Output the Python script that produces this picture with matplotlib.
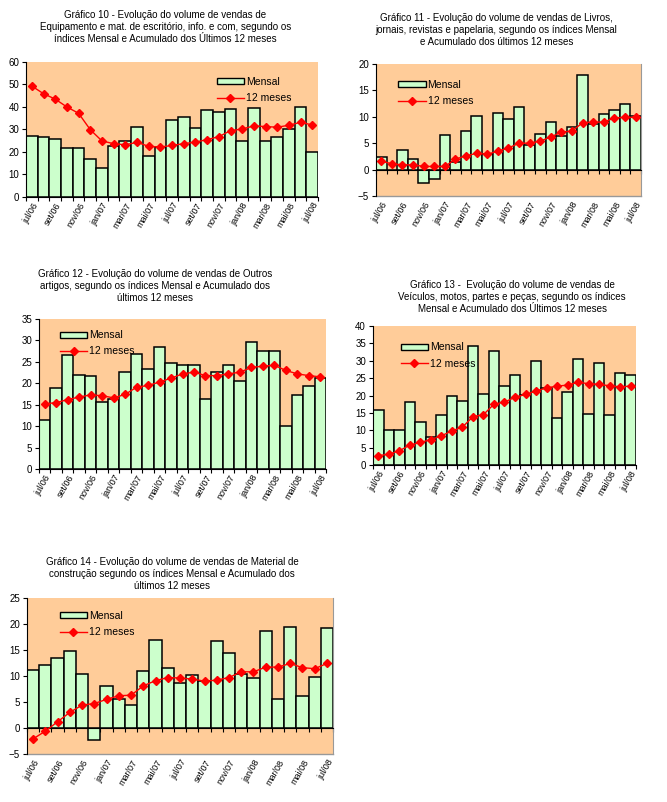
import numpy as np
import matplotlib
matplotlib.use("Agg")
import matplotlib.pyplot as plt
from matplotlib.patches import Patch
from matplotlib.lines import Line2D

plt.rcParams['font.family'] = ['Liberation Sans', 'DejaVu Sans']

meses = ["jul/06", "ago/06", "set/06", "out/06", "nov/06", "dez/06", "jan/07", "fev/07",
         "mar/07", "abr/07", "mai/07", "jun/07", "jul/07", "ago/07", "set/07", "out/07",
         "nov/07", "dez/07", "jan/08", "fev/08", "mar/08", "abr/08", "mai/08", "jun/08", "jul/08"]

# Grafico 10 - Equipamento e mat. de escritorio
mensal_10 = [27.0, 26.5, 25.6, 21.6, 21.6, 17.1, 13.1, 22.5, 24.7, 31.0, 18.0, 22.0, 34.1,
             35.4, 30.5, 38.6, 37.7, 39.0, 24.7, 39.5, 24.7, 26.5, 30.1, 39.9, 20.2]
acum_10 = [49.3, 45.9, 43.5, 40.0, 37.2, 29.9, 24.9, 23.7, 23.2, 24.3, 22.5, 22.2, 22.9,
           23.7, 24.4, 25.5, 26.8, 29.5, 30.2, 31.6, 31.3, 31.0, 31.9, 33.2, 32.0]

# Grafico 11 - Livros, jornais, revistas e papelaria
mensal_11 = [2.3, 0.0, 3.7, 2.0, -2.6, -1.8, 6.5, 1.4, 7.4, 10.1, 3.0, 10.7, 9.6,
             11.8, 4.6, 6.7, 9.0, 6.3, 8.0, 17.9, 8.6, 10.5, 11.2, 12.4, 10.1]
acum_11 = [1.6, 1.1, 0.9, 0.9, 0.6, 0.6, 0.6, 2.0, 2.6, 3.1, 2.9, 3.5, 4.1,
           5.0, 5.0, 5.4, 6.2, 7.1, 7.3, 8.9, 9.0, 9.0, 9.8, 9.9, 9.9]

# Grafico 12 - Outros artigos
mensal_12 = [11.4, 19.0, 26.6, 21.9, 21.7, 15.6, 16.3, 22.6, 26.8, 23.3, 28.5, 24.7, 24.3,
             24.3, 16.3, 22.6, 24.3, 20.5, 29.6, 27.5, 27.5, 10.0, 17.3, 19.4, 21.2]
acum_12 = [15.2, 15.5, 16.2, 16.8, 17.3, 17.1, 16.6, 17.4, 19.1, 19.5, 20.3, 21.2, 22.2,
           22.6, 21.8, 21.8, 22.2, 22.6, 23.7, 24.0, 24.2, 23.0, 22.2, 21.8, 21.5]

# Grafico 13 - Veiculos, motos, partes e pecas
mensal_13 = [15.8, 10.0, 10.0, 18.1, 12.3, 8.0, 14.4, 19.8, 18.4, 34.2, 20.4, 32.7, 22.7,
             25.8, 20.1, 29.9, 22.2, 13.5, 21.0, 30.4, 14.6, 29.3, 14.4, 26.4, 25.8]
acum_13 = [2.7, 3.1, 4.1, 5.7, 6.5, 7.3, 8.4, 9.8, 10.9, 13.9, 14.5, 17.5, 18.1,
           19.5, 20.3, 21.3, 22.2, 22.7, 23.0, 23.8, 23.4, 23.2, 22.8, 22.5, 22.7]

# Grafico 14 - Material de construcao
mensal_14 = [11.2, 12.1, 13.5, 14.8, 10.4, -2.3, 8.1, 5.6, 4.4, 11.0, 17.0, 11.5, 8.7,
             10.2, 9.0, 16.7, 14.4, 10.4, 9.6, 18.7, 5.6, 19.4, 6.2, 9.8, 19.2]
acum_14 = [-2.1, -0.6, 1.2, 3.0, 4.4, 4.7, 5.5, 6.2, 6.3, 8.1, 9.1, 9.7, 9.6,
           9.4, 9.0, 9.2, 9.7, 10.8, 10.8, 11.7, 11.7, 12.4, 11.6, 11.4, 12.4]

fundo = "#FFCC99"
verde = "#CCFFCC"
vermelho = "#FF0000"


def grafico(fig, rect, titulo, tpos, mensal, acum, ylim, ystep, legpos):
    ax = fig.add_axes(rect)
    ax.set_facecolor(fundo)
    x = np.arange(len(meses))
    ax.bar(x, mensal, width=1.0, color=verde, edgecolor="black", linewidth=1.1, zorder=2)
    ax.plot(x, acum, color=vermelho, lw=1.0, marker="D", ms=4, zorder=3)
    ax.set_xlim(-0.5, len(meses) - 0.5)
    ax.set_ylim(ylim)
    ax.set_yticks(np.arange(ylim[0], ylim[1] + 0.1, ystep))
    ax.tick_params(axis="y", labelsize=7, length=3, width=0.8, pad=2)
    for s in ["top", "right"]:
        ax.spines[s].set_visible(False)
    ax.spines["left"].set_linewidth(0.8)

    # eixo das categorias em zero, rotulos embaixo
    ax.spines["bottom"].set_position(("data", 0))
    ax.spines["bottom"].set_linewidth(0.8)
    ax.set_xticks(np.arange(-0.5, len(meses), 1.0))
    ax.set_xticklabels([])
    ax.tick_params(axis="x", length=3, width=0.8)
    sec = ax.secondary_xaxis(0)
    sec.set_xticks(x[::2])
    sec.set_xticklabels(meses[::2], rotation=60, ha="right", rotation_mode="anchor", fontsize=6.5)
    sec.tick_params(length=0, pad=3)
    sec.spines["bottom"].set_visible(False)
    if ylim[0] < 0:
        ax.spines["right"].set_visible(True)
        ax.spines["right"].set_color("#999999")
        ax.plot([0, 1], [0, 0], transform=ax.transAxes, color="#999999", lw=1, clip_on=False)

    handles = [Patch(facecolor=verde, edgecolor="black", linewidth=1.0),
               Line2D([], [], color=vermelho, lw=1.0, marker="D", ms=4)]
    ax.legend(handles, ["Mensal", "12 meses"], loc="upper left", bbox_to_anchor=legpos,
              frameon=False, fontsize=7.5, handlelength=2.6, handleheight=0.5,
              handletextpad=0.2, labelspacing=0.6, borderpad=0)

    fig.text(tpos[0], tpos[1], titulo, ha="center", va="top", fontsize=7, linespacing=1.25)
    return ax


fig = plt.figure(figsize=(6.67, 8.02), dpi=100)

grafico(fig, [0.039, 0.7544, 0.438, 0.1683],
        "Gráfico 10 - Evolução do volume de vendas de\n"
        "Equipamento e mat. de escritório, info. e com, segundo os\n"
        "índices Mensal e Acumulado dos Últimos 12 meses",
        (0.248, 0.988), mensal_10, acum_10, (0, 60), 10, (0.635, 0.93))

grafico(fig, [0.5637, 0.7556, 0.3973, 0.1646],
        "Gráfico 11 - Evolução do volume de vendas de Livros,\n"
        "jornais, revistas e papelaria, segundo os índices Mensal\n"
        "e Acumulado dos últimos 12 meses",
        (0.744, 0.984), mensal_11, acum_11, (-5, 20), 5, (0.065, 0.92))

grafico(fig, [0.0585, 0.4152, 0.4303, 0.187],
        "Gráfico 12 - Evolução do volume de vendas de Outros\n"
        "artigos, segundo os índices Mensal e Acumulado dos\n"
        "últimos 12 meses",
        (0.232, 0.665), mensal_12, acum_12, (0, 35), 5, (0.055, 0.96))

grafico(fig, [0.5592, 0.4202, 0.3943, 0.1733],
        "Gráfico 13 -  Evolução do volume de vendas de\n"
        "Veículos, motos, partes e peças, segundo os índices\n"
        "Mensal e Acumulado dos Últimos 12 meses",
        (0.768, 0.651), mensal_13, acum_13, (0, 40), 5, (0.085, 0.92))

grafico(fig, [0.0405, 0.0599, 0.4588, 0.1945],
        "Gráfico 14 - Evolução do volume de vendas de Material de\n"
        "construção segundo os índices Mensal e Acumulado dos\n"
        "últimos 12 meses",
        (0.258, 0.305), mensal_14, acum_14, (-5, 25), 5, (0.09, 0.95))

fig.savefig("out.png", dpi=100)
